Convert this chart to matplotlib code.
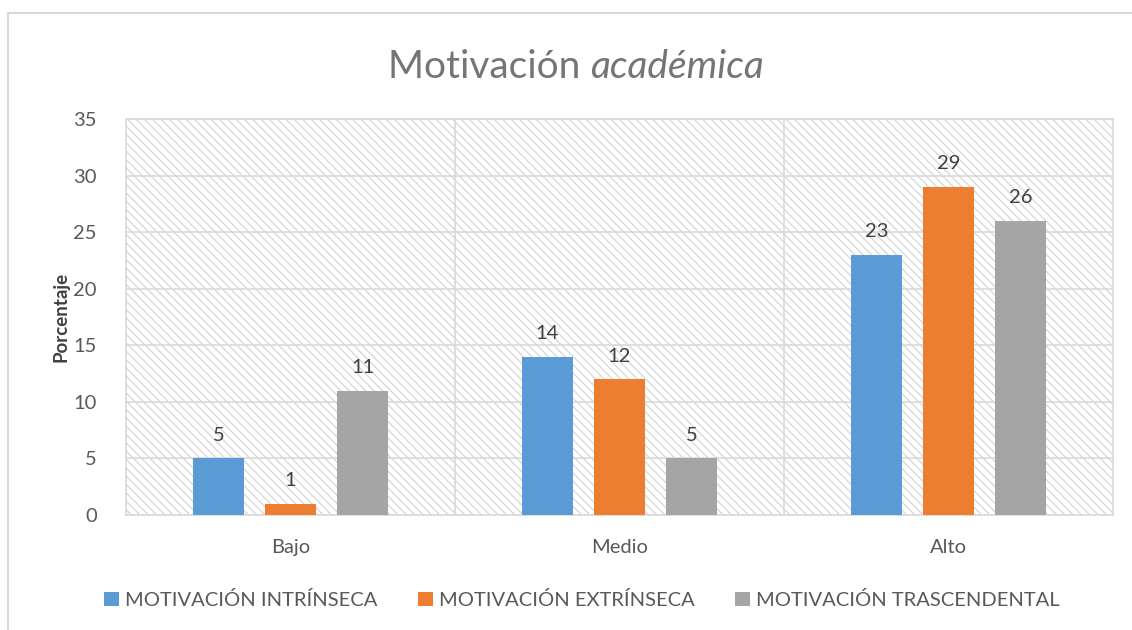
import numpy as np
import matplotlib
matplotlib.use("Agg")
import matplotlib.pyplot as plt
from matplotlib.patches import Rectangle

plt.rcParams['font.family'] = ['Lato', 'DejaVu Sans']
plt.rcParams['hatch.linewidth'] = 0.9

categories = ['Bajo', 'Medio', 'Alto']
series_names = ['MOTIVACIÓN INTRÍNSECA', 'MOTIVACIÓN EXTRÍNSECA', 'MOTIVACIÓN TRASCENDENTAL']
intrinseca = [5, 14, 23]
extrinseca = [1, 12, 29]
trascendental = [11, 5, 26]
series = [intrinseca, extrinseca, trascendental]
colors = ['#5b9bd5', '#ed7d31', '#a5a5a5']
yticks = [0, 5, 10, 15, 20, 25, 30, 35]

W, H = 1132, 630
fig = plt.figure(figsize=(W / 100, H / 100), dpi=100)
fig.patch.set_facecolor('white')

# outer chart border (left/top visible, rest cut off)
fig.add_artist(Rectangle((8 / W, -0.05), 1.2, (H - 13) / H + 0.05,
                         transform=fig.transFigure, fill=False,
                         edgecolor='#d9d9d9', linewidth=1.5))

ax = fig.add_axes([126 / W, 1 - 515 / H, (1113 - 126) / W, (515 - 119) / H])
ax.set_xlim(0, 3)
ax.set_ylim(0, 35)

# hatched plot background
ax.add_patch(Rectangle((0, 0), 3, 35, facecolor='white', edgecolor='#d6d6d6',
                       hatch='\\\\\\\\', linewidth=0, zorder=0))

for y in yticks:
    ax.axhline(y, color='#d9d9d9', linewidth=1.2, zorder=1)
for x in [1, 2]:
    ax.axvline(x, color='#d9d9d9', linewidth=1.2, zorder=1)

bar_w = 51 / 329
step = 72 / 329
x0 = np.arange(len(categories)) + 0.5
for i, vals in enumerate(series):
    xs = x0 + (i - 1) * step
    ax.bar(xs, vals, width=bar_w, color=colors[i], zorder=3, label=series_names[i])
    for xv, v in zip(xs, vals):
        ax.text(xv, v + 1.3, str(v), ha='center', va='bottom', fontsize=14.5,
                color='#404040', zorder=4)

for s in ax.spines.values():
    s.set_color('#d9d9d9')
    s.set_linewidth(1.2)

ax.set_yticks(yticks)
ax.set_xticks(x0)
ax.set_xticklabels(categories)
ax.tick_params(axis='both', length=0, labelsize=14.5, colors='#595959')
ax.tick_params(axis='y', pad=21)
ax.tick_params(axis='x', pad=17)
ax.set_ylabel('Porcentaje', fontsize=13.5, fontweight='bold', color='#404040', labelpad=3)

t1 = fig.text(388 / W, 1 - 78 / H, 'Motivación ', fontsize=28, color='#757575',
              ha='left', va='baseline')
ax.annotate('académica', xy=(1, 0), xycoords=t1, fontsize=28, color='#757575',
            style='italic', ha='left', va='bottom')

leg = fig.legend(loc='center', bbox_to_anchor=(582 / W, 1 - 600 / H), ncol=3,
                 frameon=False, fontsize=14.5, handlelength=0.75, handleheight=0.75,
                 handletextpad=0.3, columnspacing=2.0)
for t in leg.get_texts():
    t.set_color('#595959')

fig.savefig('out.png', dpi=100, facecolor='white')
